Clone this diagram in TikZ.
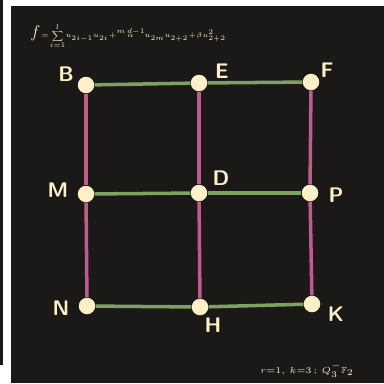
\documentclass[tikz,border=0pt]{standalone}
\usepackage{amsmath, amssymb}
\usepackage{tikz}
\usetikzlibrary{positioning, backgrounds}
\definecolor{board}{HTML}{1A1918}
\definecolor{chalk}{HTML}{FDF0C8}
\definecolor{rowgreen}{HTML}{7EA063}
\definecolor{colpink}{HTML}{C25A8C}
\tikzset{
  vertex/.style={circle, fill=chalk, minimum size=0.33cm, inner sep=0pt},
  vlabel/.style={text=chalk, font=\sffamily\bfseries\large},
  hedge/.style={rowgreen, line width=2pt},
  vedge/.style={colpink, line width=2pt},
}

\begin{document}
\begin{tikzpicture}[x=0.02cm, y=-0.02cm]
  % ================================================================
  % vertices
  % ================================================================
  \node[vertex] (B) at (86,85) {};
  \node[vertex] (E) at (199,83) {};
  \node[vertex] (F) at (311,82) {};
  \node[vertex] (M) at (86,194) {};
  \node[vertex] (D) at (199,193) {};
  \node[vertex] (P) at (310,193) {};
  \node[vertex] (N) at (87,306) {};
  \node[vertex] (H) at (200,307) {};
  \node[vertex] (K) at (312,304) {};
  % board and edges, behind the vertices ---------------------------
  \begin{scope}[on background layer]
    \useasboundingbox (0,0) rectangle (384,383);
    \fill[white] (0,0) rectangle (384,383);
    \fill[board] (0,0) rectangle (3,365);
    \fill[board] (11,6) rectangle (384,383);
    \foreach \a/\b in {B/M, M/N, E/D, D/H, F/P, P/K}
      \draw[vedge] (\a) -- (\b);
    \foreach \a/\b in {B/E, E/F, M/D, D/P, N/H, H/K}
      \draw[hedge] (\a) -- (\b);
  \end{scope}
  % labels ---------------------------------------------------------
  \node[vlabel] (lB) at (66,74) {B};
  \node[vlabel] (lE) at (222,71) {E};
  \node[vlabel] (lF) at (327,70) {F};
  \node[vlabel] (lM) at (58,190) {M};
  \node[vlabel] (lD) at (221,178) {D};
  \node[vlabel] (lP) at (336,195) {P};
  \node[vlabel] (lN) at (61,308) {N};
  \node[vlabel] (lH) at (213,325) {H};
  \node[vlabel] (lK) at (336,314) {K};
  % formula and note -----------------------------------------------
  \node[text=chalk, anchor=west, font=\tiny, inner sep=0pt, scale=0.8] (formula) at (30,36)
    {\mbox{\large$f$}\,$=\!\displaystyle\sum\limits_{i=1}^{l}\! u_{2i-1}u_{2i}\!+\!\overset{m\,d-1}{\alpha}u_{2m}u_{2+2}\!+\!\beta u_{2+2}^{2}$};
  \node[text=chalk, anchor=east, font=\tiny, inner sep=0pt] (note) at (354,370)
    {$r{=}1,\,k{=}3\,;\,Q_3^{-}\mathbb{F}_2$};
\end{tikzpicture}
\end{document}
